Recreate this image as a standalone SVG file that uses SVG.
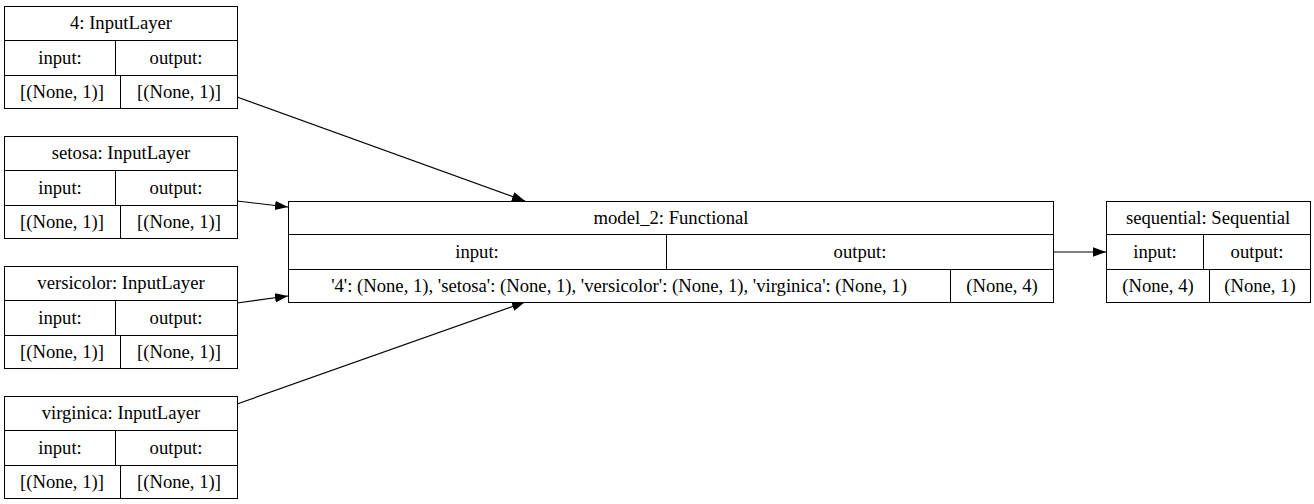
<svg xmlns="http://www.w3.org/2000/svg" width="1314" height="504" viewBox="0 0 1314 504">
<style>
.b{fill:#fff;stroke:#000;stroke-width:1}
.d{fill:none;stroke:#000;stroke-width:1}
.e{fill:none;stroke:#000;stroke-width:1.2}
</style>
<defs>
<marker id="ah" markerUnits="userSpaceOnUse" markerWidth="14" markerHeight="10" refX="13" refY="4.67" orient="auto">
<path d="M0,0 L13,4.67 L0,9.33 z" fill="#000"/>
</marker>
</defs>
<rect width="1314" height="504" fill="#fff"/>
<g id="connectors">
<line class="e" x1="237" y1="97" x2="525" y2="201" marker-end="url(#ah)"/>
<line class="e" x1="237" y1="201" x2="288" y2="207" marker-end="url(#ah)"/>
<line class="e" x1="237" y1="303" x2="288" y2="296" marker-end="url(#ah)"/>
<line class="e" x1="237" y1="404" x2="525" y2="302" marker-end="url(#ah)"/>
<line class="e" x1="1053" y1="252" x2="1106" y2="252" marker-end="url(#ah)"/>
</g>
<g font-family="Liberation Serif, DejaVu Serif, serif" font-size="18.67" text-anchor="middle" fill="#000">
<g id="node4">
<rect class="b" x="4.5" y="6.5" width="233" height="102"/>
<path class="d" d="M4.5,40.5H237.5M4.5,75.5H237.5M115.5,40.5V75.5M120.5,75.5V108.5"/>
<text x="121" y="29">4: InputLayer</text>
<text x="60" y="64">input:</text>
<text x="176" y="64">output:</text>
<text x="62" y="98">[(None, 1)]</text>
<text x="179" y="98">[(None, 1)]</text>
</g>
<g id="setosa">
<rect class="b" x="4.5" y="136.5" width="233" height="102"/>
<path class="d" d="M4.5,170.5H237.5M4.5,205.5H237.5M115.5,170.5V205.5M120.5,205.5V238.5"/>
<text x="121" y="159">setosa: InputLayer</text>
<text x="60" y="194">input:</text>
<text x="176" y="194">output:</text>
<text x="62" y="228">[(None, 1)]</text>
<text x="179" y="228">[(None, 1)]</text>
</g>
<g id="versicolor">
<rect class="b" x="4.5" y="266.5" width="233" height="102"/>
<path class="d" d="M4.5,300.5H237.5M4.5,335.5H237.5M115.5,300.5V335.5M120.5,335.5V368.5"/>
<text x="121" y="289">versicolor: InputLayer</text>
<text x="60" y="324">input:</text>
<text x="176" y="324">output:</text>
<text x="62" y="358">[(None, 1)]</text>
<text x="179" y="358">[(None, 1)]</text>
</g>
<g id="virginica">
<rect class="b" x="4.5" y="396.5" width="233" height="102"/>
<path class="d" d="M4.5,430.5H237.5M4.5,465.5H237.5M115.5,430.5V465.5M120.5,465.5V498.5"/>
<text x="121" y="419">virginica: InputLayer</text>
<text x="60" y="454">input:</text>
<text x="176" y="454">output:</text>
<text x="62" y="488">[(None, 1)]</text>
<text x="179" y="488">[(None, 1)]</text>
</g>
<g id="model_2">
<rect class="b" x="288.5" y="201.5" width="765" height="101"/>
<path class="d" d="M288.5,234.5H1053.5M288.5,269.5H1053.5M666.5,234.5V269.5M950.5,269.5V302.5"/>
<text x="671" y="224">model_2: Functional</text>
<text x="477" y="258">input:</text>
<text x="860" y="258">output:</text>
<text x="619" y="292">'4': (None, 1), 'setosa': (None, 1), 'versicolor': (None, 1), 'virginica': (None, 1)</text>
<text x="1002" y="292">(None, 4)</text>
</g>
<g id="sequential">
<rect class="b" x="1106.5" y="201.5" width="204" height="101"/>
<path class="d" d="M1106.5,234.5H1310.5M1106.5,269.5H1310.5M1203.5,234.5V269.5M1209.5,269.5V302.5"/>
<text x="1208" y="224">sequential: Sequential</text>
<text x="1155" y="258">input:</text>
<text x="1257" y="258">output:</text>
<text x="1158" y="292">(None, 4)</text>
<text x="1260" y="292">(None, 1)</text>
</g>
</g>
</svg>
